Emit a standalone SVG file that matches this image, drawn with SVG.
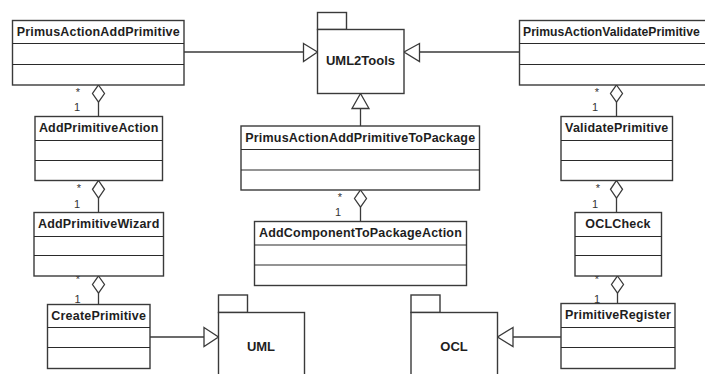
<svg xmlns="http://www.w3.org/2000/svg" width="705" height="374" viewBox="0 0 705 374">
<style>
.box{fill:#fff;stroke:#3a3a3a;stroke-width:1.4}
.div{stroke:#2a2a2a;stroke-width:1.2}
.t{font-family:"Liberation Sans",Arial,sans-serif;font-weight:bold;font-size:12.5px;letter-spacing:0.2px;fill:#1e1e1e;text-anchor:middle}
.pk{font-family:"Liberation Sans",Arial,sans-serif;font-weight:bold;font-size:13px;fill:#1e1e1e;text-anchor:middle}
.m{font-family:"Liberation Sans",Arial,sans-serif;font-size:11px;fill:#333;text-anchor:middle}
.ln{fill:none;stroke:#3a3a3a;stroke-width:1.3}
.tri{fill:#fff;stroke:#3a3a3a;stroke-width:1.3}
</style>
<rect width="705" height="374" fill="#fff"/>
<g id="connectors">
  <path class="ln" d="M184 52H303.5"/>
  <path class="tri" d="M303.5 43.5L317.5 52L303.5 61.5Z"/>
  <path class="ln" d="M519.5 52H419.5"/>
  <path class="tri" d="M419.5 43.5L404 52L419.5 61.5Z"/>
  <path class="ln" d="M360.5 126V108.5"/>
  <path class="tri" d="M352 108.5L360.5 93.5L369 108.5Z"/>
  <path class="ln" d="M150 337H204"/>
  <path class="tri" d="M204 327.5L218.5 337L204 346.5Z"/>
  <path class="ln" d="M561 337H513"/>
  <path class="tri" d="M513 327.5L497.5 337L513 346.5Z"/>
  <path class="tri" d="M98.5 85L104.5 93.5L98.5 102L92.5 93.5Z"/><path class="ln" d="M98.5 102V116.5"/>
  <path class="tri" d="M98.5 180.5L104.5 189.3L98.5 198L92.5 189.3Z"/><path class="ln" d="M98.5 198V212.5"/>
  <path class="tri" d="M98.5 276L104.5 284.5L98.5 293L92.5 284.5Z"/><path class="ln" d="M98.5 293V304.5"/>
  <path class="tri" d="M360.5 190L366.5 198.5L360.5 207L354.5 198.5Z"/><path class="ln" d="M360.5 207V221.5"/>
  <path class="tri" d="M616.5 85L622.5 93.5L616.5 102L610.5 93.5Z"/><path class="ln" d="M616.5 102V116.5"/>
  <path class="tri" d="M616.5 180.5L622.5 189.3L616.5 198L610.5 189.3Z"/><path class="ln" d="M616.5 198V212.5"/>
  <path class="tri" d="M617.5 276L623.5 284.5L617.5 293L611.5 284.5Z"/><path class="ln" d="M617.5 293V303.5"/>
  <text class="m" x="78" y="95.5">*</text><text class="m" x="77" y="110.7">1</text>
  <text class="m" x="79" y="191.5">*</text><text class="m" x="77" y="207.5">1</text>
  <text class="m" x="78" y="283">*</text><text class="m" x="77.5" y="303">1</text>
  <text class="m" x="340" y="200.5">*</text><text class="m" x="338" y="215.7">1</text>
  <text class="m" x="597" y="95.5">*</text><text class="m" x="595" y="110.7">1</text>
  <text class="m" x="598" y="191.5">*</text><text class="m" x="595" y="207.5">1</text>
  <text class="m" x="597" y="283">*</text><text class="m" x="597" y="303">1</text>
</g>
<g id="UML2Tools">
  <rect class="box" x="317.5" y="12.5" width="29" height="17"/>
  <rect class="box" x="317.5" y="29.5" width="86.5" height="64"/>
  <text class="pk" x="360.5" y="64.5">UML2Tools</text>
</g>
<g id="UML">
  <rect class="box" x="218.5" y="295" width="29" height="17.5"/>
  <rect class="box" x="218.5" y="312.5" width="86" height="70"/>
  <text class="pk" x="261" y="350.5">UML</text>
</g>
<g id="OCL">
  <rect class="box" x="411" y="295" width="29" height="17.5"/>
  <rect class="box" x="411" y="312.5" width="86.5" height="70"/>
  <text class="pk" x="454" y="350.5">OCL</text>
</g>
<g id="PrimusActionAddPrimitive">
  <rect class="box" x="12.5" y="20.5" width="171.5" height="64.5"/>
  <path class="div" d="M12.5 43.5H184M12.5 64.5H184"/>
  <text class="t" x="98.3" y="35.5">PrimusActionAddPrimitive</text>
</g>
<g id="AddPrimitiveAction">
  <rect class="box" x="35" y="116.5" width="127.5" height="64"/>
  <path class="div" d="M35 140.5H162.5M35 160.5H162.5"/>
  <text class="t" x="98.7" y="132">AddPrimitiveAction</text>
</g>
<g id="AddPrimitiveWizard">
  <rect class="box" x="34" y="212.5" width="129.5" height="63.5"/>
  <path class="div" d="M34 236.5H163.5M34 255.5H163.5"/>
  <text class="t" x="98.7" y="228">AddPrimitiveWizard</text>
</g>
<g id="CreatePrimitive">
  <rect class="box" x="47.5" y="304.5" width="102.5" height="64"/>
  <path class="div" d="M47.5 327.5H150M47.5 347.5H150"/>
  <text class="t" x="98.7" y="320">CreatePrimitive</text>
</g>
<g id="PrimusActionAddPrimitiveToPackage">
  <rect class="box" x="241" y="126" width="238.5" height="64"/>
  <path class="div" d="M241 149.5H479.5M241 170H479.5"/>
  <text class="t" x="360.3" y="141.5">PrimusActionAddPrimitiveToPackage</text>
</g>
<g id="AddComponentToPackageAction">
  <rect class="box" x="254.5" y="221.5" width="212" height="64"/>
  <path class="div" d="M254.5 245H466.5M254.5 265H466.5"/>
  <text class="t" x="360.5" y="237">AddComponentToPackageAction</text>
</g>
<g id="PrimusActionValidatePrimitive">
  <rect class="box" x="519.5" y="20.5" width="200" height="64.5"/>
  <path class="div" d="M519.5 43.5H719.5M519.5 64.5H719.5"/>
  <text class="t" x="523" y="35.5" style="text-anchor:start;font-size:12.2px;letter-spacing:0">PrimusActionValidatePrimitive</text>
</g>
<g id="ValidatePrimitive">
  <rect class="box" x="561" y="116.5" width="111.5" height="64"/>
  <path class="div" d="M561 140.5H672.5M561 160.5H672.5"/>
  <text class="t" x="616.8" y="132">ValidatePrimitive</text>
</g>
<g id="OCLCheck">
  <rect class="box" x="575" y="212.5" width="86.5" height="63.5"/>
  <path class="div" d="M575 236.5H661.5M575 255.5H661.5"/>
  <text class="t" x="618" y="228">OCLCheck</text>
</g>
<g id="PrimitiveRegister">
  <rect class="box" x="561" y="303.5" width="114" height="65"/>
  <path class="div" d="M561 327.5H675M561 347.5H675"/>
  <text class="t" x="618" y="319">PrimitiveRegister</text>
</g>
</svg>
